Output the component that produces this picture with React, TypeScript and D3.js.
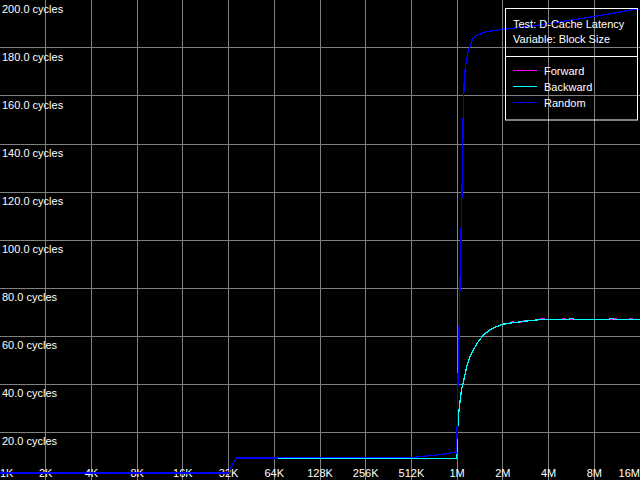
import React from "react";
import * as d3 from "d3";

const W = 640;
const H = 480;

// block sizes in KB on the x axis
const xTickValues = [1, 2, 4, 8, 16, 32, 64, 128, 256, 512, 1024, 2048, 4096, 8192, 16384];
const xTickLabels = ["1K", "2K", "4K", "8K", "16K", "32K", "64K", "128K", "256K", "512K", "1M", "2M", "4M", "8M", "16M"];
const yTickValues = [20, 40, 60, 80, 100, 120, 140, 160, 180, 200];

const forwardSize = [1, 32, 34, 36, 128, 132, 1017, 1027, 1040, 1053, 1075, 1097, 1141, 1184, 1244, 1307, 1409, 1519, 1679, 1855, 2050, 2300, 2330, 2420, 2450, 2800, 2830, 3053, 3590, 3620, 3916, 5050, 5090, 5250, 5290, 6000, 11000, 11050, 11400, 11450, 14000, 14080, 14500, 14550, 16384];
const forwardCycles = [2.9, 2.9, 6.5, 9.2, 9.2, 9.0, 9.0, 18, 25, 29, 34, 38, 42.5, 47.2, 51.4, 54.2, 57.6, 60.4, 62.5, 63.9, 64.9, 65.5, 65.9, 65.9, 65.5, 66.0, 66.4, 66.4, 66.8, 67.1, 67.0, 67.0, 67.4, 67.4, 67.0, 67.0, 67.0, 67.4, 67.4, 67.0, 67.0, 67.4, 67.4, 67.0, 67.0];

const backwardSize = [1, 32, 34, 36, 128, 132, 1017, 1027, 1040, 1053, 1075, 1097, 1141, 1184, 1244, 1307, 1409, 1519, 1679, 1855, 2050, 2381, 3053, 3916, 5600, 5650, 5900, 5950, 10300, 10350, 11000, 11050, 16384];
const backwardCycles = [2.9, 2.9, 6.5, 9.2, 9.2, 9.0, 9.0, 18, 25, 29, 34, 38, 42.5, 47.2, 51.4, 54.2, 57.6, 60.4, 62.5, 63.9, 64.9, 65.5, 66.4, 67.0, 67.0, 67.4, 67.4, 67.0, 67.0, 67.4, 67.4, 67.0, 67.0];

const randomSize = [1, 32, 34, 36, 512, 560, 645, 830, 966, 1006, 1022, 1030, 1042, 1058, 1074, 1091, 1107, 1124, 1141, 1159, 1184, 1213, 1244, 1283, 1343, 1486, 1604, 2063, 3250, 4185, 6936, 10396, 14079, 16384];
const randomCycles = [2.9, 2.9, 6.5, 9.2, 9.3, 9.6, 10.0, 10.7, 11.5, 11.3, 17.9, 33.3, 47.1, 66.7, 87.5, 108.3, 125, 154.2, 166.7, 172.1, 175, 179.2, 180.5, 183.3, 185, 186.1, 186.8, 187.8, 189.2, 190.3, 192.4, 194.2, 195.8, 196.2];

const seriesNames = ["Forward", "Backward", "Random"];
const seriesColors = ["#ff00ff", "#00ffff", "#0000ff"];
const seriesSizes = [forwardSize, backwardSize, randomSize];
const seriesValues = [forwardCycles, backwardCycles, randomCycles];

const FONT = "'Liberation Sans', Arial, sans-serif";

export default function App() {
  const x = d3.scaleLog().base(2).domain([1, 16384]).range([0, W]);
  const y = d3.scaleLinear().domain([0, 200]).range([H, 0]);

  const line = d3
    .line<[number, number]>()
    .x((d) => x(d[0]))
    .y((d) => y(d[1]));

  const crisp = (v: number) => Math.floor(v) + 0.5;

  return (
    <svg
      width={W}
      height={H}
      style={{ position: "absolute", left: 0, top: 0, display: "block", background: "#000" }}
    >
      <rect x={0} y={0} width={W} height={H} fill="#000" />
      {/* grid */}
      {xTickValues.slice(1, -1).map((v) => (
        <line key={"gx" + v} x1={crisp(x(v))} x2={crisp(x(v))} y1={0} y2={H} stroke="#808080" strokeWidth={1} />
      ))}
      {yTickValues.slice(0, -1).map((v) => (
        <line key={"gy" + v} x1={0} x2={W} y1={crisp(y(v))} y2={crisp(y(v))} stroke="#808080" strokeWidth={1} />
      ))}
      {/* y labels */}
      {yTickValues.map((v) => (
        <text key={"yl" + v} x={2} y={y(v) + 13} fill="#fff" fontFamily={FONT} fontSize={11}>
          {v.toFixed(1) + " cycles"}
        </text>
      ))}
      {/* x labels */}
      {xTickValues.map((v, i) => {
        const anchor = i === 0 ? "start" : i === xTickValues.length - 1 ? "end" : "middle";
        const px = i === 0 ? 0 : i === xTickValues.length - 1 ? W : x(v);
        return (
          <text key={"xl" + v} x={px} y={476.5} fill="#fff" fontFamily={FONT} fontSize={11} textAnchor={anchor}>
            {xTickLabels[i]}
          </text>
        );
      })}
      {/* series */}
      {seriesNames.map((name, si) => {
        const pts = seriesSizes[si].map((s, k) => [s, seriesValues[si][k]] as [number, number]);
        return (
          <path
            key={name}
            d={line(pts) || ""}
            fill="none"
            stroke={seriesColors[si]}
            strokeWidth={1.3}
            shapeRendering="crispEdges"
          />
        );
      })}
      {/* legend */}
      <rect x={505.5} y={8.5} width={132} height={111.5} fill="none" stroke="#fff" strokeWidth={1} />
      <line x1={505.5} x2={637.5} y1={56.5} y2={56.5} stroke="#fff" strokeWidth={1} />
      <text x={513} y={28} fill="#fff" fontFamily={FONT} fontSize={11}>
        Test: D-Cache Latency
      </text>
      <text x={513} y={43} fill="#fff" fontFamily={FONT} fontSize={11}>
        Variable: Block Size
      </text>
      {seriesNames.map((name, si) => {
        const ly = [70.5, 86.5, 102.5][si];
        return (
          <g key={"lg" + name}>
            <line x1={513} x2={537} y1={ly} y2={ly} stroke={seriesColors[si]} strokeWidth={1} />
            <text x={544} y={ly + 4.5} fill="#fff" fontFamily={FONT} fontSize={11}>
              {name}
            </text>
          </g>
        );
      })}
    </svg>
  );
}
